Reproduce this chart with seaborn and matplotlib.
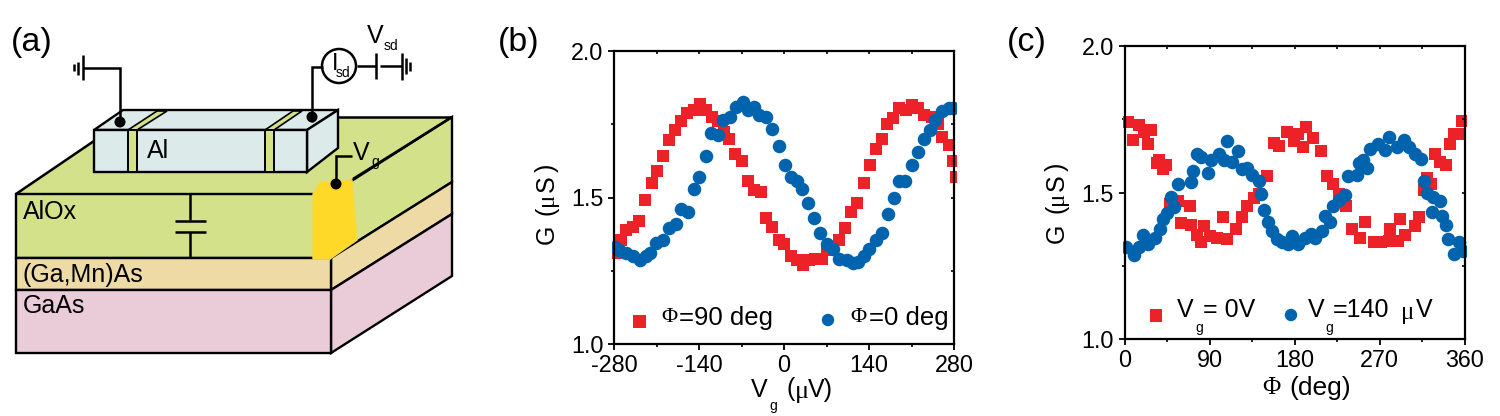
import matplotlib
matplotlib.use("Agg")
import matplotlib.pyplot as plt
from matplotlib.patches import Polygon, Circle, Rectangle
import seaborn as sns

sns.set_theme(style="ticks")
plt.rcParams['font.family'] = ['Liberation Sans', 'DejaVu Sans']
plt.rcParams['text.color'] = 'black'
plt.rcParams['axes.unicode_minus'] = False

RED = "#ED2229"
BLUE = "#0063AE"
SERIF = ['Liberation Serif', 'DejaVu Serif']

# panel b: G vs Vg
vg_red = [-277, -269, -260, -249, -239, -229, -218, -209, -199, -189, -180, -170, -159, -149, -139,
          -128, -119, -108, -99, -90, -80, -70, -59, -49, -38, -29, -19, -9, 0, 11, 21, 31, 41, 51,
          62, 71, 90, 100, 110, 121, 131, 142, 151, 161, 170, 180, 190, 201, 211, 221, 231, 243,
          254, 260, 271, 278, 283]
g_red = [1.31, 1.355, 1.39, 1.40, 1.42, 1.49, 1.55, 1.59, 1.64, 1.695, 1.73, 1.76, 1.79, 1.80, 1.82,
         1.80, 1.775, 1.76, 1.725, 1.70, 1.65, 1.625, 1.555, 1.525, 1.52, 1.43, 1.40, 1.355, 1.34,
         1.30, 1.285, 1.27, 1.285, 1.29, 1.29, 1.32, 1.355, 1.395, 1.45, 1.48, 1.55, 1.61, 1.665,
         1.70, 1.75, 1.77, 1.805, 1.80, 1.815, 1.805, 1.78, 1.775, 1.75, 1.705, 1.68, 1.625, 1.57]
vg_blue = [-278, -271, -260, -248, -238, -228, -220, -211, -199, -189, -178, -169, -158, -148, -140,
           -129, -120, -109, -100, -89, -79, -68, -60, -50, -41, -30, -19, -9, 1, 11, 22, 29, 40, 49,
           60, 70, 81, 91, 103, 113, 122, 131, 140, 151, 162, 171, 181, 190, 200, 210, 220, 230,
           240, 249, 260, 271, 278]
g_blue = [1.33, 1.32, 1.31, 1.30, 1.285, 1.30, 1.31, 1.345, 1.355, 1.395, 1.41, 1.46, 1.45, 1.53, 1.57,
          1.64, 1.72, 1.715, 1.765, 1.775, 1.81, 1.825, 1.80, 1.81, 1.78, 1.775, 1.735, 1.675, 1.61,
          1.57, 1.555, 1.53, 1.48, 1.43, 1.38, 1.34, 1.325, 1.29, 1.285, 1.275, 1.28, 1.30, 1.325,
          1.355, 1.38, 1.445, 1.50, 1.555, 1.555, 1.61, 1.655, 1.70, 1.73, 1.765, 1.795, 1.805, 1.805]

# panel c: G vs phi
phi_red = [4, 9, 15, 21, 28, 25, 34, 37, 41, 44, 48, 57, 69, 60, 70, 77, 84, 81, 91, 98, 108, 104, 118,
           124, 130, 137, 142, 151, 158, 164, 172, 179, 184, 189, 192, 200, 208, 214, 221, 227, 235,
           241, 249, 255, 264, 272, 281, 280, 290, 292, 297, 308, 312, 317, 320, 325, 329, 334, 340,
           345, 349, 355, 357]
gc_red = [1.74, 1.68, 1.73, 1.705, 1.715, 1.665, 1.60, 1.61, 1.58, 1.595, 1.46, 1.47, 1.455, 1.395, 1.39,
          1.355, 1.385, 1.33, 1.35, 1.345, 1.34, 1.415, 1.375, 1.415, 1.455, 1.48, 1.495, 1.555, 1.67,
          1.66, 1.705, 1.675, 1.70, 1.655, 1.725, 1.685, 1.64, 1.555, 1.53, 1.495, 1.455, 1.375, 1.345,
          1.40, 1.33, 1.33, 1.375, 1.335, 1.335, 1.41, 1.355, 1.385, 1.415, 1.51, 1.55, 1.53, 1.63,
          1.605, 1.595, 1.665, 1.70, 1.70, 1.745]
phi_blue = [2, 10, 15, 20, 25, 32, 38, 41, 45, 49, 52, 57, 70, 72, 77, 81, 88, 92, 100, 105, 108, 114,
            120, 124, 130, 135, 142, 145, 148, 152, 156, 161, 167, 173, 177, 184, 191, 197, 202, 209,
            212, 218, 221, 227, 233, 237, 246, 248, 252, 257, 260, 268, 276, 280, 288, 296, 301, 308,
            314, 317, 320, 327, 334, 326, 336, 340, 343, 354, 349, 358]
gc_blue = [1.315, 1.285, 1.315, 1.355, 1.325, 1.345, 1.375, 1.41, 1.43, 1.485, 1.45, 1.53, 1.535, 1.575,
           1.63, 1.62, 1.565, 1.61, 1.63, 1.61, 1.675, 1.605, 1.64, 1.58, 1.585, 1.56, 1.54, 1.495, 1.44,
           1.40, 1.37, 1.34, 1.33, 1.325, 1.35, 1.325, 1.345, 1.36, 1.345, 1.37, 1.42, 1.40, 1.455, 1.475,
           1.49, 1.555, 1.56, 1.60, 1.61, 1.585, 1.65, 1.665, 1.645, 1.69, 1.655, 1.68, 1.655, 1.63,
           1.615, 1.54, 1.50, 1.485, 1.47, 1.435, 1.42, 1.39, 1.34, 1.33, 1.29, 1.30]

vg_ticks = [-280, -140, 0, 140, 280]
phi_ticks = [0, 90, 180, 270, 360]
g_ticks = [1.0, 1.5, 2.0]

W, H = 1500, 416
fig = plt.figure(figsize=(W / 100, H / 100), dpi=100)

# overlay in pixel coordinates for the device sketch and the labels
bg = fig.add_axes([0, 0, 1, 1], zorder=3)
bg.set_xlim(0, W)
bg.set_ylim(H, 0)
bg.axis("off")
bg.patch.set_alpha(0)


def poly(pts, fc, ec="black", lw=1.7, **kw):
    bg.add_patch(Polygon(pts, closed=True, fc=fc, ec=ec, lw=lw, joinstyle="miter", **kw))


def wire(xs, ys, lw=1.8):
    bg.plot(xs, ys, color="black", lw=lw, solid_capstyle="butt", solid_joinstyle="miter")


def label(x, y, s, size=18, **kw):
    bg.text(x, y, s, fontsize=size, ha=kw.pop("ha", "left"), va=kw.pop("va", "center"), **kw)


GREEN = "#D3E18B"
PEACH = "#EEDAA5"
PINK = "#EACBD8"
ICE = "#DDEAEA"
GOLD = "#FFD928"

# substrate
poly([(16, 194), (127, 117), (452, 117), (331, 194)], GREEN, ec="none")
poly([(331, 194), (452, 117), (452, 182), (331, 258)], GREEN)
poly([(331, 258), (452, 182), (452, 214), (331, 290)], PEACH)
poly([(331, 290), (452, 214), (452, 276), (331, 353)], PINK)
poly([(16, 194), (331, 194), (331, 258), (16, 258)], GREEN)
poly([(16, 258), (331, 258), (331, 290), (16, 290)], PEACH)
poly([(16, 290), (331, 290), (331, 353), (16, 353)], PINK)
wire([16, 94], [194, 141])
wire([338, 452], [117, 117])

# aluminium bar
poly([(94, 130), (123, 110), (338, 110), (307, 130)], ICE)
poly([(307, 130), (338, 110), (338, 148), (307, 172)], ICE)
poly([(94, 130), (307, 130), (307, 172), (94, 172)], ICE)
poly([(128, 130), (137, 130), (167, 111), (157, 111)], GREEN, lw=1.2)
poly([(265, 130), (274, 130), (302, 111), (293, 111)], GREEN, lw=1.2)
poly([(128, 130), (137, 130), (137, 172), (128, 172)], GREEN, lw=1.4)
poly([(265, 130), (274, 130), (274, 172), (265, 172)], GREEN, lw=1.4)

# gate electrode
poly([(313, 194), (320, 182), (352, 180), (357, 240), (330, 259), (313, 259)], GOLD, ec="#F5D84A", lw=1)
wire([353, 452], [179, 117])

# capacitor
wire([190, 190], [194, 220])
wire([175, 206], [221, 221])
wire([175, 206], [232, 232])
wire([190, 190], [232, 258])

# wires and source
wire([83, 120, 120], [68, 68, 122])
wire([83, 83], [55, 80])
wire([78, 78], [62, 75])
wire([74, 74], [64, 71])
wire([312, 312, 323], [122, 67, 67])
bg.add_patch(Circle((339, 66), 17, fc="white", ec="black", lw=1.8))
wire([357, 376], [66, 66])
wire([376, 376], [53, 79])
wire([380, 402], [66, 66])
wire([402, 402], [53, 80])
wire([406, 406], [58, 74])
wire([410, 410], [62, 71])
wire([336, 336, 352], [184, 156, 156])
for cx, cy in [(120, 122), (312, 117), (336, 184)]:
    bg.add_patch(Circle((cx, cy), 5.5, fc="black", ec="none", zorder=5))

label(11, 43, "(a)", size=24.5)
label(23, 212, "AlOx")
label(23, 275, "(Ga,Mn)As")
label(23, 306, "GaAs")
label(147, 151, "Al")
label(367, 36, "V")
label(384, 46, "sd", size=10)
label(332, 64, "I", size=17)
label(336, 73, "sd", size=10)
label(353, 153, "V")
label(371, 162, "g", size=10)


def panel(box, xs_r, ys_r, xs_b, ys_b, xlim, xticks, xminor):
    left, top, right, bottom = box
    ax = fig.add_axes([left / W, 1 - bottom / H, (right - left) / W, (bottom - top) / H], zorder=2)
    clip = Rectangle((-0.005, -0.01), 1.01, 1.02, transform=ax.transAxes)
    sns.scatterplot(x=xs_r, y=ys_r, ax=ax, marker="s", s=80, color=RED, linewidth=0)
    sns.scatterplot(x=xs_b, y=ys_b, ax=ax, marker="o", s=95, color=BLUE, linewidth=0)
    for coll in ax.collections:
        coll.set_clip_path(clip)
    ax.set_xlim(*xlim)
    ax.set_ylim(1.0, 2.0)
    ax.set_xticks(xticks)
    ax.set_xticks(xminor, minor=True)
    ax.set_yticks(g_ticks)
    ax.set_yticklabels([f"{v:.1f}" for v in g_ticks])
    ax.set_yticks([1.25, 1.75], minor=True)
    ax.tick_params(axis="both", which="major", direction="out", length=4.5, width=1.3, labelsize=16.8, pad=3,
                   bottom=True, left=True, color="black", labelcolor="black")
    ax.tick_params(axis="both", which="minor", direction="out", length=2, width=1.2, bottom=True, left=True,
                   color="black")
    for sp in ax.spines.values():
        sp.set_linewidth(1.6)
        sp.set_color("black")
        sp.set_visible(True)
    # short inward ticks on the top and right
    tw = ax.twinx()
    tw.set_ylim(1.0, 2.0)
    tw.set_yticks(g_ticks)
    tw.set_yticks([1.25, 1.75], minor=True)
    tw.tick_params(axis="y", which="both", direction="in", length=2.5, width=1.2, labelright=False, color="black")
    ty = ax.twiny()
    ty.set_xlim(*xlim)
    ty.set_xticks(xticks)
    ty.set_xticks(xminor, minor=True)
    ty.tick_params(axis="x", which="both", direction="in", length=2.5, width=1.2, labeltop=False, color="black")
    for other in (tw, ty):
        for sp in other.spines.values():
            sp.set_visible(False)
    return ax


panel((614, 51, 954, 344), vg_red, g_red, vg_blue, g_blue, (-280, 280), vg_ticks, [-210, -70, 70, 210])
panel((1124.5, 46, 1464.5, 339), phi_red, gc_red, phi_blue, gc_blue, (0, 360), phi_ticks, [45, 135, 225, 315])


def ylabel(x, offs):
    for y, s, fam in zip(offs, ["G", "(", "\u03bc", "S", ")"],
                         [None, None, SERIF, None, None]):
        kw = {"family": fam} if fam else {}
        label(x, y, s, rotation=90, ha="center", size=18, **kw)


# panel b labels
label(498, 43, "(b)", size=24.5)
ylabel(547, [234, 211, 199, 184, 168])
label(751, 390, "V")
label(769, 406, "g", size=10)
label(787, 389, "(")
label(795, 392, "\u03bc", family=SERIF, size=19)
label(808, 390, "V)")
bg.add_patch(Rectangle((633, 315), 13, 13, fc=RED, ec="none"))
bg.add_patch(Circle((828, 320), 6.2, fc=BLUE, ec="none"))
label(661, 318, "\u03a6", family=SERIF, size=16)
label(679, 318, "=90 deg", size=18.5)
label(850, 318, "\u03a6", family=SERIF, size=16)
label(869, 318, "=0 deg", size=18.5)

# panel c labels
label(1007, 43, "(c)", size=24.5)
ylabel(1057, [233, 209, 198, 183, 167])
label(1262, 388, "\u03a6", family=SERIF)
label(1289, 388, "(deg)", size=19)
bg.add_patch(Rectangle((1150, 309), 12, 13, fc=RED, ec="none"))
bg.add_patch(Circle((1291, 315), 6.2, fc=BLUE, ec="none"))
label(1177, 310, "V")
label(1195, 328, "g", size=10)
label(1203, 310, "= 0V")
label(1308, 310, "V")
label(1325, 328, "g", size=10)
label(1333, 310, "=140")
label(1401, 313, "\u03bc", family=SERIF)
label(1416, 310, "V")

fig.savefig("out.png", dpi=100)
